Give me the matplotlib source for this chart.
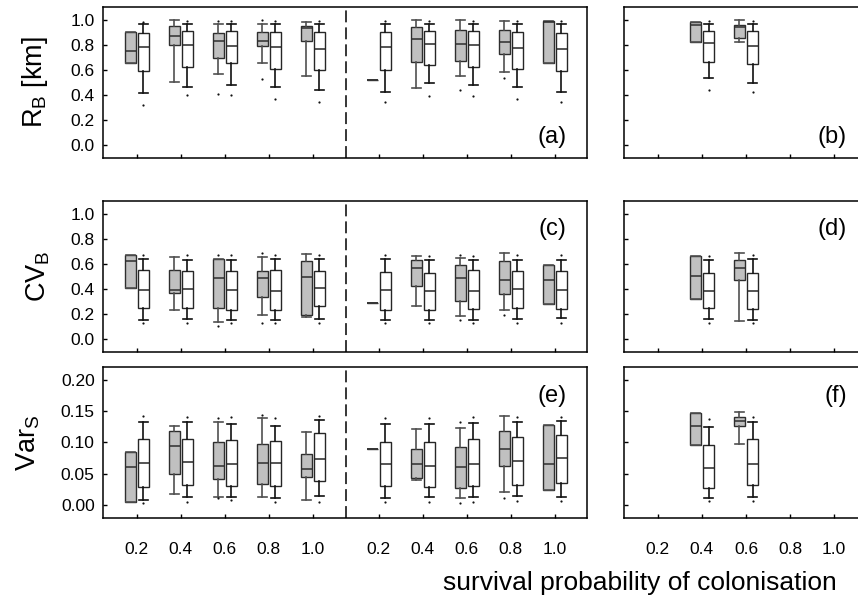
import matplotlib
matplotlib.use("Agg")
import matplotlib.pyplot as plt

plt.rcParams["font.family"] = ["Liberation Sans", "DejaVu Sans"]
plt.rcParams["mathtext.fontset"] = "custom"
plt.rcParams["mathtext.rm"] = "Liberation Sans"
plt.rcParams["mathtext.it"] = "Liberation Sans:italic"
plt.rcParams["mathtext.bf"] = "Liberation Sans:bold"

# x categories (survival probability of colonisation)
probs = ["0.2", "0.4", "0.6", "0.8", "1.0"]

# Box summaries: (lower whisker, Q1, median, Q3, upper whisker, outlying points)
# ---- R_B [km] ----
rb_grey_1 = [
    (0.655, 0.655, 0.753, 0.899, 0.899, []),
    (0.504, 0.801, 0.873, 0.947, 0.995, []),
    (0.565, 0.695, 0.828, 0.894, 0.968, [0.989, 0.408]),
    (0.655, 0.793, 0.828, 0.899, 0.968, [1.000, 0.531]),
    (0.549, 0.828, 0.934, 0.947, 0.984, []),
]
rb_white_1 = [
    (0.416, 0.594, 0.782, 0.894, 0.963, [0.979, 0.324]),
    (0.464, 0.623, 0.801, 0.912, 0.968, [0.989, 0.398]),
    (0.483, 0.655, 0.793, 0.907, 0.968, [0.989, 0.398]),
    (0.462, 0.607, 0.782, 0.899, 0.968, [0.989, 0.371]),
    (0.443, 0.597, 0.769, 0.902, 0.968, [0.989, 0.345]),
]
rb_grey_2 = [
    (0.520, 0.520, 0.520, 0.520, 0.520, []),
    (0.456, 0.663, 0.846, 0.939, 0.995, []),
    (0.554, 0.674, 0.809, 0.920, 0.995, [0.443]),
    (0.581, 0.727, 0.825, 0.920, 0.989, [0.533]),
    (0.653, 0.653, 0.979, 0.989, 0.989, []),
]
rb_white_2 = [
    (0.422, 0.597, 0.780, 0.902, 0.968, [0.989, 0.342]),
    (0.496, 0.639, 0.806, 0.907, 0.968, [0.989, 0.395]),
    (0.483, 0.623, 0.801, 0.912, 0.968, [0.989, 0.395]),
    (0.462, 0.605, 0.777, 0.899, 0.968, [0.989, 0.369]),
    (0.427, 0.589, 0.767, 0.897, 0.968, [0.989, 0.345]),
]
rb_grey_3 = [None,
             (0.822, 0.822, 0.958, 0.984, 0.984, []),
             (0.822, 0.854, 0.942, 0.960, 0.995, []),
             None, None]
rb_white_3 = [None,
              (0.533, 0.666, 0.814, 0.912, 0.968, [0.989, 0.443]),
              (0.499, 0.647, 0.793, 0.907, 0.968, [0.989, 0.424]),
              None, None]

# ---- CV_B ----
cv_grey_1 = [
    (0.411, 0.411, 0.621, 0.674, 0.674, []),
    (0.231, 0.371, 0.390, 0.552, 0.655, []),
    (0.138, 0.252, 0.488, 0.637, 0.637, [0.668, 0.106]),
    (0.196, 0.337, 0.485, 0.546, 0.658, [0.690, 0.130]),
    (0.180, 0.191, 0.496, 0.626, 0.682, []),
]
cv_white_1 = [
    (0.151, 0.247, 0.390, 0.552, 0.639, [0.674, 0.130]),
    (0.164, 0.247, 0.401, 0.544, 0.634, [0.674, 0.133]),
    (0.156, 0.236, 0.393, 0.541, 0.634, [0.668, 0.133]),
    (0.156, 0.231, 0.382, 0.549, 0.639, [0.668, 0.130]),
    (0.164, 0.263, 0.408, 0.546, 0.642, [0.668, 0.130]),
]
cv_grey_2 = [
    (0.292, 0.292, 0.292, 0.292, 0.292, []),
    (0.268, 0.424, 0.568, 0.634, 0.663, []),
    (0.183, 0.308, 0.491, 0.594, 0.650, [0.671, 0.156]),
    (0.231, 0.363, 0.469, 0.623, 0.687, [0.196]),
    (0.284, 0.284, 0.469, 0.589, 0.589, []),
]
cv_white_2 = [
    (0.156, 0.236, 0.390, 0.536, 0.639, [0.671, 0.130]),
    (0.156, 0.236, 0.385, 0.531, 0.629, [0.660, 0.130]),
    (0.156, 0.239, 0.385, 0.549, 0.634, [0.666, 0.130]),
    (0.164, 0.252, 0.403, 0.541, 0.634, [0.671, 0.133]),
    (0.167, 0.241, 0.390, 0.541, 0.634, [0.668, 0.133]),
]
cv_grey_3 = [None,
             (0.318, 0.318, 0.507, 0.663, 0.663, []),
             (0.146, 0.472, 0.568, 0.634, 0.687, []),
             None, None]
cv_white_3 = [None,
              (0.162, 0.249, 0.385, 0.531, 0.631, [0.666, 0.130]),
              (0.156, 0.239, 0.387, 0.528, 0.637, [0.668, 0.130]),
              None, None]

# ---- Var_S ----
vs_grey_1 = [
    (0.0053, 0.0053, 0.0608, 0.0852, 0.0852, []),
    (0.0175, 0.0503, 0.0942, 0.1175, 0.1259, []),
    (0.0132, 0.0418, 0.0619, 0.1000, 0.1323, [0.139, 0.011]),
    (0.0132, 0.0344, 0.0677, 0.0984, 0.1386, [0.144]),
    (0.0079, 0.0450, 0.0577, 0.0820, 0.1159, []),
]
vs_white_1 = [
    (0.0090, 0.0296, 0.0677, 0.1063, 0.1328, [0.142, 0.004]),
    (0.0127, 0.0328, 0.0693, 0.1058, 0.1328, [0.140, 0.006]),
    (0.0132, 0.0312, 0.0651, 0.1042, 0.1296, [0.140, 0.008]),
    (0.0116, 0.0302, 0.0667, 0.1016, 0.1259, [0.139, 0.006]),
    (0.0143, 0.0392, 0.0741, 0.1148, 0.1360, [0.142, 0.005]),
]
vs_grey_2 = [
    (0.0894, 0.0894, 0.0894, 0.0894, 0.0894, []),
    (0.0397, 0.0429, 0.0651, 0.0894, 0.1212, []),
    (0.0122, 0.0280, 0.0614, 0.0931, 0.1238, [0.1333, 0.0037]),
    (0.0212, 0.0624, 0.0894, 0.1180, 0.1423, [0.0122]),
    (0.0249, 0.0249, 0.0651, 0.1286, 0.1286, []),
]
vs_white_2 = [
    (0.0111, 0.0302, 0.0656, 0.1010, 0.1296, [0.1386, 0.0048]),
    (0.0127, 0.0286, 0.0630, 0.1010, 0.1296, [0.1386, 0.0058]),
    (0.0127, 0.0307, 0.0656, 0.1053, 0.1307, [0.1400, 0.0058]),
    (0.0143, 0.0328, 0.0709, 0.1085, 0.1323, [0.1400, 0.0069]),
    (0.0138, 0.0360, 0.0751, 0.1127, 0.1339, [0.1412, 0.0074]),
]
vs_grey_3 = [None,
             (0.0963, 0.0963, 0.1270, 0.1471, 0.1471, []),
             (0.0984, 0.1265, 0.1349, 0.1402, 0.1481, []),
             None, None]
vs_white_3 = [None,
              (0.0116, 0.0280, 0.0598, 0.0963, 0.1249, [0.1380, 0.0069]),
              (0.0132, 0.0328, 0.0656, 0.1053, 0.1328, [0.1412, 0.0069]),
              None, None]

row_labels = ["R$_\\mathrm{B}$ [km]", "CV$_\\mathrm{B}$", "Var$_\\mathrm{S}$"]
panel_tags = [("(a)", "(b)"), ("(c)", "(d)"), ("(e)", "(f)")]
row_data = [
    (rb_grey_1, rb_white_1, rb_grey_2, rb_white_2, rb_grey_3, rb_white_3),
    (cv_grey_1, cv_white_1, cv_grey_2, cv_white_2, cv_grey_3, cv_white_3),
    (vs_grey_1, vs_white_1, vs_grey_2, vs_white_2, vs_grey_3, vs_white_3),
]

# ---- layout ----
W, H = 858, 600
fig = plt.figure(figsize=(W / 100, H / 100), dpi=100)

GROUP2 = 5.5          # offset of the second group inside the wide panel
BOX_W = 0.24
SHIFT = 0.15
GREY_FACE = "#c0c0c0"

row_tops = [7, 201, 367]
row_h = 151
left_px = (103, 484)
right_px = (624, 243)

ylims = [(-0.1, 1.1), (-0.1, 1.1), (-0.02, 0.22)]
yticks = [[0, 0.2, 0.4, 0.6, 0.8, 1.0], [0, 0.2, 0.4, 0.6, 0.8, 1.0],
          [0, 0.05, 0.10, 0.15, 0.20]]
yfmt = ["{:.1f}", "{:.1f}", "{:.2f}"]
ylabel_x = [35, 38.5, 28]
tag_y = [(0.066, "bottom"), (0.89, "top"), (0.88, "top")]


def draw_series(ax, stats, centers, offset, grey):
    items, pos = [], []
    for c, s in zip(centers, stats):
        if s is None:
            continue
        lo, q1, med, q3, hi, fl = s
        items.append(dict(whislo=lo, q1=q1, med=med, q3=q3, whishi=hi,
                          fliers=fl))
        pos.append(c + offset)
    if grey:
        face, edge, wcol = GREY_FACE, "#2e2e2e", "#505050"
    else:
        face, edge, wcol = "white", "#262626", "#111111"
    ax.bxp(items, positions=pos, widths=BOX_W, patch_artist=True,
           showfliers=True, capwidths=0.2, manage_ticks=False,
           boxprops=dict(facecolor=face, edgecolor=edge, linewidth=1.0),
           medianprops=dict(color=edge, linewidth=1.1),
           whiskerprops=dict(color=wcol, linewidth=1.2),
           capprops=dict(color=wcol, linewidth=1.2),
           flierprops=dict(marker="o", markersize=1.6,
                           markerfacecolor="#111111",
                           markeredgecolor="none"))


def style_axes(ax, r, show_ylabels):
    ax.set_ylim(*ylims[r])
    ax.set_yticks(yticks[r])
    if show_ylabels:
        ax.set_yticklabels([yfmt[r].format(v) for v in yticks[r]])
    else:
        ax.set_yticklabels([])
    ax.tick_params(direction="in", length=3.2, width=1.0, labelsize=12.5,
                   top=False, right=False)
    ax.tick_params(axis="y", pad=6)
    ax.tick_params(axis="x", pad=17)
    for sp in ax.spines.values():
        sp.set_linewidth(1.1)


for r in range(3):
    g1, w1, g2, w2, g3, w3 = row_data[r]
    bottom = 1 - (row_tops[r] + row_h) / H
    height = row_h / H

    # wide panel: two groups of five categories, split by a dashed line
    axL = fig.add_axes([left_px[0] / W, bottom, left_px[1] / W, height])
    c1 = list(range(5))
    c2 = [GROUP2 + i for i in range(5)]
    draw_series(axL, g1, c1, -SHIFT, True)
    draw_series(axL, w1, c1, SHIFT, False)
    draw_series(axL, g2, c2, -SHIFT, True)
    draw_series(axL, w2, c2, SHIFT, False)
    axL.axvline((c1[-1] + c2[0]) / 2, color="black", linewidth=1.1,
                linestyle=(0, (7.8, 3.3)))
    axL.set_xlim(-0.77, 10.23)
    axL.set_xticks(c1 + c2)
    style_axes(axL, r, True)
    if r == 2:
        axL.set_xticklabels(probs + probs)
    else:
        axL.set_xticklabels([])

    # narrow panel
    axR = fig.add_axes([right_px[0] / W, bottom, right_px[1] / W, height])
    draw_series(axR, g3, c1, -SHIFT, True)
    draw_series(axR, w3, c1, SHIFT, False)
    axR.set_xlim(-0.77, 4.75)
    axR.set_xticks(c1)
    style_axes(axR, r, False)
    if r == 2:
        axR.set_xticklabels(probs)
    else:
        axR.set_xticklabels([])

    ty, tva = tag_y[r]
    axL.text(0.958, ty, panel_tags[r][0], transform=axL.transAxes,
             ha="right", va=tva, fontsize=17)
    axR.text(0.918, ty, panel_tags[r][1], transform=axR.transAxes,
             ha="right", va=tva, fontsize=17)

    fig.text(ylabel_x[r] / W, bottom + height / 2, row_labels[r],
             rotation=90, ha="center", va="center", fontsize=19.5)

fig.text(640 / W, 1 - 590 / H, "survival probability of colonisation",
         ha="center", va="baseline", fontsize=19)

fig.savefig("out.png", dpi=100)
